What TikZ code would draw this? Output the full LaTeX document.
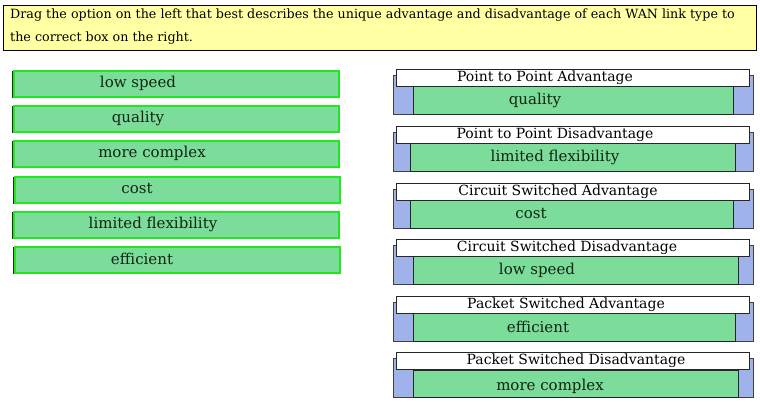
\documentclass[tikz,border=0pt]{standalone}
\usepackage{fontspec}
\setmainfont{DejaVu Serif}
\usetikzlibrary{shadows}
\definecolor{notefill}{RGB}{255,255,164}
\definecolor{optfill}{RGB}{124,220,154}
\definecolor{optline}{RGB}{34,230,34}
\definecolor{backfill}{RGB}{160,178,234}
\definecolor{optink}{RGB}{16,36,20}
\begin{document}
\begin{tikzpicture}[x=1pt,y=-1pt,
    notebox/.style={draw=black, line width=0.8pt, fill=notefill, anchor=north west, inner sep=0pt},
    notetext/.style={anchor=west, inner sep=0pt, font=\fontsize{12.7}{14}\selectfont},
    optbox/.style={draw=optline, line width=1.6pt, fill=optfill, anchor=north west, inner sep=0pt,
        minimum width=325pt, minimum height=26pt,
        general shadow={draw=black!85, line width=1.4pt, shadow xshift=-0.9pt, shadow yshift=-0.9pt}},
    opttext/.style={text=optink, font=\fontsize{15}{17}\selectfont, inner sep=0pt},
    backbox/.style={draw=black!75, line width=0.6pt, fill=backfill, anchor=north west, inner sep=0pt,
        minimum width=360pt, minimum height=39pt},
    headbox/.style={draw=black!85, line width=0.6pt, fill=white, anchor=north west, inner sep=0pt,
        minimum width=353pt, minimum height=17pt},
    headtext/.style={font=\fontsize{14}{16}\selectfont, inner sep=0pt},
    ansbox/.style={draw=black!85, line width=0.6pt, fill=optfill, anchor=north west, inner sep=0pt,
        minimum height=28pt}]
\useasboundingbox (0,0) rectangle (760,404);

% instructions
\node[notebox, minimum width=753pt, minimum height=45pt] (note) at (3,5) {};
\node[notetext] (noteone) at (10,15)
    {Drag the option on the left that best describes the unique advantage and disadvantage of each WAN link type to};
\node[notetext] (notetwo) at (10,38) {the correct box on the right.};

% options on the left
\node[optbox] (lowspeed) at (13,70) {};
    \node[opttext] (lowspeedtext) at (138,83) {low speed};
\node[optbox] (quality) at (13,105) {};
    \node[opttext] (qualitytext) at (138,118) {quality};
\node[optbox] (complex) at (13,140) {};
    \node[opttext] (complextext) at (152,153) {more complex};
\node[optbox] (cost) at (14,176) {};
    \node[opttext] (costtext) at (137,189) {cost};
\node[optbox] (limited) at (13,211) {};
    \node[opttext] (limitedtext) at (153,224) {limited flexibility};
\node[optbox] (efficient) at (14,246) {};
    \node[opttext] (efficienttext) at (142,259) {efficient};

% point to point
\node[backbox] (ppadvback) at (393,75) {};
\node[headbox] (ppadvhead) at (396,69) {};
    \node[headtext] (ppadvlabel) at (545,78) {Point to Point Advantage};
\node[ansbox, minimum width=320pt] (ppadv) at (413,86) {};
    \node[opttext] (ppadvtext) at (535,100) {quality};

\node[backbox] (ppdisback) at (393,132) {};
\node[headbox] (ppdishead) at (396,126) {};
    \node[headtext] (ppdislabel) at (555,135) {Point to Point Disadvantage};
\node[ansbox, minimum width=325pt] (ppdis) at (410,143) {};
    \node[opttext] (ppdistext) at (555,157) {limited flexibility};

% circuit switched
\node[backbox] (csadvback) at (393,189) {};
\node[headbox] (csadvhead) at (396,183) {};
    \node[headtext] (csadvlabel) at (558,192) {Circuit Switched Advantage};
\node[ansbox, minimum width=323pt] (csadv) at (410,200) {};
    \node[opttext] (csadvtext) at (531,214) {cost};

\node[backbox] (csdisback) at (393,245) {};
\node[headbox] (csdishead) at (396,239) {};
    \node[headtext] (csdislabel) at (567,248) {Circuit Switched Disadvantage};
\node[ansbox, minimum width=325pt] (csdis) at (413,256) {};
    \node[opttext] (csdistext) at (537,270) {low speed};

% packet switched
\node[backbox] (psadvback) at (393,302) {};
\node[headbox] (psadvhead) at (396,296) {};
    \node[headtext] (psadvlabel) at (566,305) {Packet Switched Advantage};
\node[ansbox, minimum width=322pt] (psadv) at (413,313) {};
    \node[opttext] (psadvtext) at (538,327) {efficient};

\node[backbox] (psdisback) at (393,358) {};
\node[headbox] (psdishead) at (396,352) {};
    \node[headtext] (psdislabel) at (576,361) {Packet Switched Disadvantage};
\node[ansbox, minimum width=325pt, minimum height=27pt] (psdis) at (413,370) {};
    \node[opttext] (psdistext) at (550,386) {more complex};
\end{tikzpicture}
\end{document}
